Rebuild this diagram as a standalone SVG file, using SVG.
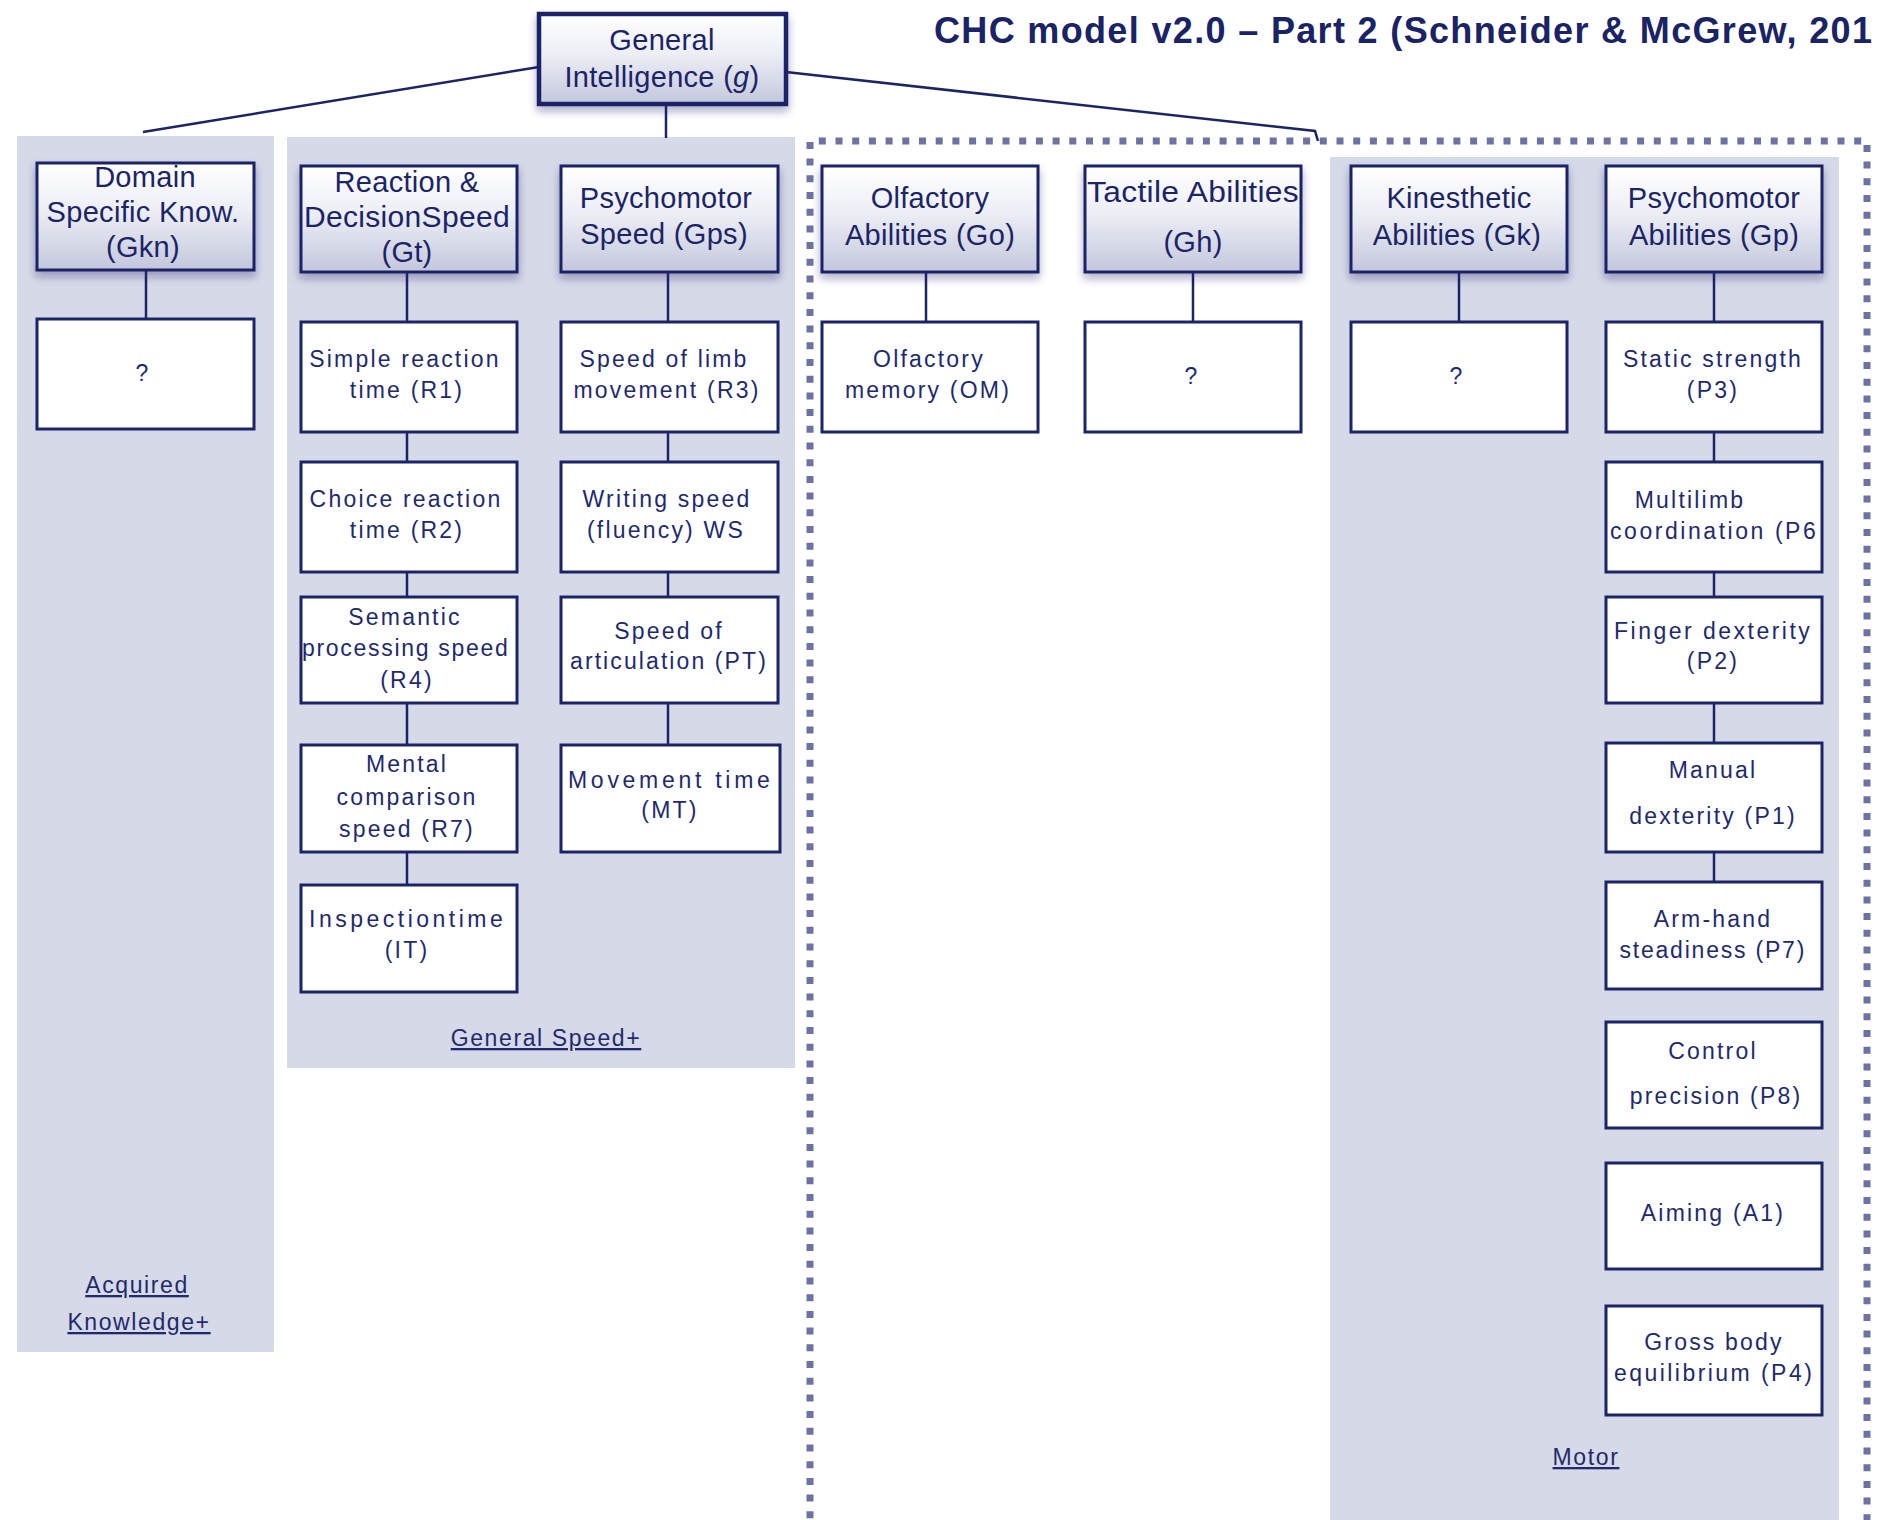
<svg xmlns="http://www.w3.org/2000/svg" width="1881" height="1520" viewBox="0 0 1881 1520">
<defs>
<linearGradient id="hg" x1="0" y1="0" x2="0" y2="1">
<stop offset="0" stop-color="#ffffff"/>
<stop offset="0.45" stop-color="#eceef5"/>
<stop offset="1" stop-color="#c3c7db"/>
</linearGradient>
<filter id="sh" x="-10%" y="-10%" width="120%" height="140%">
<feDropShadow dx="0" dy="5" stdDeviation="4" flood-color="#1c2468" flood-opacity="0.35"/>
</filter>
<style>
.panel{fill:#d6d9e7}
.hdr rect{fill:url(#hg);stroke:#1c2468;stroke-width:3;filter:url(#sh)}
.leaf rect{fill:#ffffff;stroke:#1c2468;stroke-width:3}
.ht{font-family:"Liberation Sans",Arial,sans-serif;font-size:29px;fill:#1c2468;text-anchor:middle;letter-spacing:0.3px}
.lt{font-family:"Liberation Sans",Arial,sans-serif;font-size:23px;fill:#1f2a6e;text-anchor:middle;letter-spacing:2.2px}
.lbl{font-family:"Liberation Sans",Arial,sans-serif;font-size:23px;fill:#1f2a6e;text-anchor:middle;letter-spacing:1.6px;text-decoration:underline}
.conn line,.conn polyline{stroke:#1c2468;stroke-width:2.5;fill:none}
.dots{fill:none;stroke:#6c72a2;stroke-width:7;stroke-dasharray:7 9.7}
.title{font-family:"Liberation Sans",Arial,sans-serif;font-weight:bold;font-size:36px;fill:#1a2366}
</style>
</defs>
<rect width="1881" height="1520" fill="#ffffff"/>

<!-- background panels -->
<rect class="panel" x="17" y="136" width="257" height="1216"/>
<rect class="panel" x="287" y="137" width="508" height="931"/>
<rect class="panel" x="1330" y="157" width="509" height="1375"/>
<path class="dots" d="M810 1535 V141 H1867 V1535"/>

<text class="title" x="934" y="43" textLength="938" lengthAdjust="spacing">CHC model v2.0 – Part 2 (Schneider &amp; McGrew, 201</text>

<!-- connectors -->
<g class="conn" id="connectors">
<line x1="539" y1="67" x2="143" y2="132"/>
<line x1="666" y1="104" x2="666" y2="138"/>
<polyline points="786,72 1315,131 1318,141"/>
<line x1="146" y1="270" x2="146" y2="319"/>
<line x1="407" y1="272" x2="407" y2="322"/>
<line x1="407" y1="432" x2="407" y2="462"/>
<line x1="407" y1="572" x2="407" y2="597"/>
<line x1="407" y1="703" x2="407" y2="745"/>
<line x1="407" y1="852" x2="407" y2="885"/>
<line x1="668" y1="272" x2="668" y2="322"/>
<line x1="668" y1="432" x2="668" y2="462"/>
<line x1="668" y1="572" x2="668" y2="597"/>
<line x1="668" y1="703" x2="668" y2="745"/>
<line x1="926" y1="272" x2="926" y2="322"/>
<line x1="1193" y1="272" x2="1193" y2="322"/>
<line x1="1459" y1="272" x2="1459" y2="322"/>
<line x1="1714" y1="272" x2="1714" y2="322"/>
<line x1="1714" y1="432" x2="1714" y2="462"/>
<line x1="1714" y1="572" x2="1714" y2="597"/>
<line x1="1714" y1="703" x2="1714" y2="743"/>
<line x1="1714" y1="852" x2="1714" y2="882"/>
</g>

<!-- general intelligence -->
<g id="g" class="hdr">
<rect x="539" y="14" width="247" height="90" style="stroke-width:4.5"/>
<text class="ht" x="662" y="50">General</text>
<text class="ht" x="662" y="87">Intelligence (<tspan font-style="italic">g</tspan>)</text>
</g>

<!-- broad abilities -->
<g id="gkn" class="hdr">
<rect x="37" y="163" width="217" height="107"/>
<text class="ht" x="145" y="187">Domain</text>
<text class="ht" x="143" y="222">Specific Know.</text>
<text class="ht" x="143" y="257">(Gkn)</text>
</g>
<g id="gt" class="hdr">
<rect x="301" y="166" width="216" height="106"/>
<text class="ht" x="407" y="192">Reaction &amp;</text>
<text class="ht" x="407" y="227" textLength="206" lengthAdjust="spacingAndGlyphs">DecisionSpeed</text>
<text class="ht" x="407" y="262">(Gt)</text>
</g>
<g id="gps" class="hdr">
<rect x="561" y="166" width="217" height="106"/>
<text class="ht" x="666" y="208">Psychomotor</text>
<text class="ht" x="664" y="244">Speed (Gps)</text>
</g>
<g id="go" class="hdr">
<rect x="822" y="166" width="216" height="106"/>
<text class="ht" x="930" y="208">Olfactory</text>
<text class="ht" x="930" y="245">Abilities (Go)</text>
</g>
<g id="gh" class="hdr">
<rect x="1085" y="166" width="216" height="106"/>
<text class="ht" x="1193" y="202" textLength="212" lengthAdjust="spacingAndGlyphs">Tactile Abilities</text>
<text class="ht" x="1193" y="252">(Gh)</text>
</g>
<g id="gk" class="hdr">
<rect x="1351" y="166" width="216" height="106"/>
<text class="ht" x="1459" y="208">Kinesthetic</text>
<text class="ht" x="1457" y="245">Abilities (Gk)</text>
</g>
<g id="gp" class="hdr">
<rect x="1606" y="166" width="216" height="106"/>
<text class="ht" x="1714" y="208">Psychomotor</text>
<text class="ht" x="1714" y="245">Abilities (Gp)</text>
</g>

<!-- narrow abilities -->
<g id="gkn-q" class="leaf">
<rect x="37" y="319" width="217" height="110"/>
<text class="lt" x="143" y="381">?</text>
</g>
<g id="r1" class="leaf">
<rect x="301" y="322" width="216" height="110"/>
<text class="lt" x="405" y="367">Simple reaction</text>
<text class="lt" x="407" y="398">time (R1)</text>
</g>
<g id="r2" class="leaf">
<rect x="301" y="462" width="216" height="110"/>
<text class="lt" x="406" y="507">Choice reaction</text>
<text class="lt" x="407" y="538">time (R2)</text>
</g>
<g id="r4" class="leaf">
<rect x="301" y="597" width="216" height="106"/>
<text class="lt" x="405" y="625">Semantic</text>
<text class="lt" x="406" y="656" textLength="208">processing speed</text>
<text class="lt" x="407" y="688">(R4)</text>
</g>
<g id="r7" class="leaf">
<rect x="301" y="745" width="216" height="107"/>
<text class="lt" x="407" y="772">Mental</text>
<text class="lt" x="407" y="805">comparison</text>
<text class="lt" x="407" y="837">speed (R7)</text>
</g>
<g id="it" class="leaf">
<rect x="301" y="885" width="216" height="107"/>
<text class="lt" x="407" y="927" textLength="196">Inspectiontime</text>
<text class="lt" x="407" y="958">(IT)</text>
</g>
<g id="r3" class="leaf">
<rect x="561" y="322" width="217" height="110"/>
<text class="lt" x="664" y="367">Speed of limb</text>
<text class="lt" x="667" y="398">movement (R3)</text>
</g>
<g id="ws" class="leaf">
<rect x="561" y="462" width="217" height="110"/>
<text class="lt" x="667" y="507">Writing speed</text>
<text class="lt" x="666" y="538">(fluency) WS</text>
</g>
<g id="pt" class="leaf">
<rect x="561" y="597" width="217" height="106"/>
<text class="lt" x="669" y="639">Speed of</text>
<text class="lt" x="669" y="669" textLength="198">articulation (PT)</text>
</g>
<g id="mt" class="leaf">
<rect x="561" y="745" width="219" height="107"/>
<text class="lt" x="670" y="788" textLength="204">Movement time</text>
<text class="lt" x="670" y="818">(MT)</text>
</g>
<g id="om" class="leaf">
<rect x="822" y="322" width="216" height="110"/>
<text class="lt" x="929" y="367">Olfactory</text>
<text class="lt" x="928" y="398">memory (OM)</text>
</g>
<g id="gh-q" class="leaf">
<rect x="1085" y="322" width="216" height="110"/>
<text class="lt" x="1192" y="384">?</text>
</g>
<g id="gk-q" class="leaf">
<rect x="1351" y="322" width="216" height="110"/>
<text class="lt" x="1457" y="384">?</text>
</g>
<g id="p3" class="leaf">
<rect x="1606" y="322" width="216" height="110"/>
<text class="lt" x="1713" y="367">Static strength</text>
<text class="lt" x="1713" y="398">(P3)</text>
</g>
<g id="p6" class="leaf">
<rect x="1606" y="462" width="216" height="110"/>
<text class="lt" x="1690" y="508">Multilimb</text>
<text class="lt" x="1714" y="539" textLength="208">coordination (P6</text>
</g>
<g id="p2" class="leaf">
<rect x="1606" y="597" width="216" height="106"/>
<text class="lt" x="1713" y="639" textLength="198">Finger dexterity</text>
<text class="lt" x="1713" y="669">(P2)</text>
</g>
<g id="p1" class="leaf">
<rect x="1606" y="743" width="216" height="109"/>
<text class="lt" x="1713" y="778">Manual</text>
<text class="lt" x="1713" y="824">dexterity (P1)</text>
</g>
<g id="p7" class="leaf">
<rect x="1606" y="882" width="216" height="107"/>
<text class="lt" x="1713" y="927">Arm-hand</text>
<text class="lt" x="1713" y="958" textLength="187">steadiness (P7)</text>
</g>
<g id="p8" class="leaf">
<rect x="1606" y="1022" width="216" height="106"/>
<text class="lt" x="1713" y="1059">Control</text>
<text class="lt" x="1716" y="1104">precision (P8)</text>
</g>
<g id="a1" class="leaf">
<rect x="1606" y="1163" width="216" height="106"/>
<text class="lt" x="1713" y="1221">Aiming (A1)</text>
</g>
<g id="p4" class="leaf">
<rect x="1606" y="1306" width="216" height="109"/>
<text class="lt" x="1714" y="1350">Gross body</text>
<text class="lt" x="1714" y="1381" textLength="200">equilibrium (P4)</text>
</g>

<!-- group labels -->
<text class="lbl" x="546" y="1046">General Speed+</text>
<text class="lbl" x="137" y="1293">Acquired</text>
<text class="lbl" x="139" y="1330">Knowledge+</text>
<text class="lbl" x="1586" y="1465">Motor</text>
</svg>
